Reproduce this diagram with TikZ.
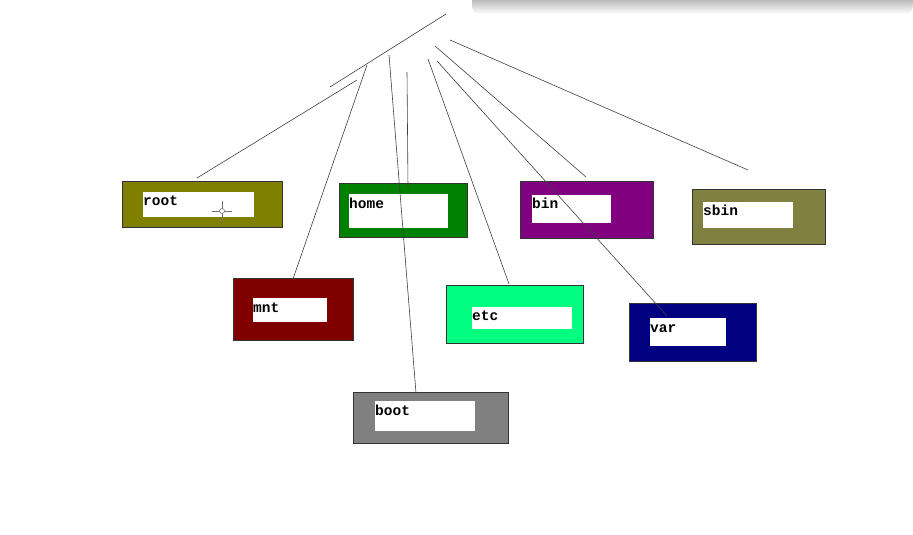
\documentclass[tikz,border=0pt]{standalone}
\usepackage{fontspec}
\setmonofont{Liberation Mono}
\definecolor{cRoot}{HTML}{808000}
\definecolor{cHome}{HTML}{008000}
\definecolor{cBin}{HTML}{800080}
\definecolor{cSbin}{HTML}{808040}
\definecolor{cMnt}{HTML}{800000}
\definecolor{cEtc}{HTML}{00FF80}
\definecolor{cVar}{HTML}{000080}
\definecolor{cBoot}{HTML}{808080}
\begin{document}
\begin{tikzpicture}[x=1pt,y=-1pt,
  outerbox/.style={draw=black!80, line width=0.7pt, inner sep=0pt, rectangle},
  innerbox/.style={fill=white, draw=none, inner sep=0pt, rectangle},
  lbl/.style={font=\ttfamily\bfseries\fontsize{14.5}{16}\selectfont, inner sep=0pt, anchor=base west, text=black},
  link/.style={draw=black!75, line width=0.6pt}]
\useasboundingbox (0,0) rectangle (913,535);
\fill[white] (0,0) rectangle (913,535);
% window shadow at top right
\shade[top color=black!45, bottom color=white, rounded corners=8pt] (472,-10) rectangle (913,14);
% boxes
\node[outerbox, fill=cRoot, minimum width=160pt, minimum height=46pt] (root) at (202,204) {};
\node[innerbox, minimum width=111pt, minimum height=25pt] (rooti) at (198.5,204.5) {};
\node[lbl] (rootl) at (143,205) {root};

\node[outerbox, fill=cHome, minimum width=128pt, minimum height=54pt] (home) at (403,210) {};
\node[innerbox, minimum width=99pt, minimum height=34pt] (homei) at (398.5,211) {};
\node[lbl] (homel) at (349,208) {home};

\node[outerbox, fill=cBin, minimum width=133pt, minimum height=57pt] (bin) at (586.5,209.5) {};
\node[innerbox, minimum width=79pt, minimum height=28pt] (bini) at (571.5,209) {};
\node[lbl] (binl) at (532,208) {bin};

\node[outerbox, fill=cSbin, minimum width=133pt, minimum height=55pt] (sbin) at (758.5,216.5) {};
\node[innerbox, minimum width=90pt, minimum height=26pt] (sbini) at (748,215) {};
\node[lbl] (sbinl) at (703,215) {sbin};

\node[outerbox, fill=cMnt, minimum width=120pt, minimum height=62pt] (mnt) at (293,309) {};
\node[innerbox, minimum width=74pt, minimum height=24pt] (mnti) at (290,310) {};
\node[lbl] (mntl) at (253,312) {mnt};

\node[outerbox, fill=cEtc, minimum width=137pt, minimum height=58pt] (etc) at (514.5,314) {};
\node[innerbox, minimum width=100pt, minimum height=22pt] (etci) at (522,318) {};
\node[lbl] (etcl) at (472,320) {etc};

\node[outerbox, fill=cVar, minimum width=127pt, minimum height=58pt] (var) at (692.5,332) {};
\node[innerbox, minimum width=76pt, minimum height=28pt] (vari) at (688,332) {};
\node[lbl] (varl) at (650,332) {var};

\node[outerbox, fill=cBoot, minimum width=155pt, minimum height=51pt] (boot) at (430.5,417.5) {};
\node[innerbox, minimum width=100pt, minimum height=30pt] (booti) at (425,416) {};
\node[lbl] (bootl) at (375,415) {boot};

% line end points
\coordinate (t1a) at (446,14);   \coordinate (t1b) at (330,87);
\coordinate (r1) at (357,80);    \coordinate (r2) at (197,178);
\coordinate (m1) at (367,65);    \coordinate (m2) at (293,279);
\coordinate (b1) at (389,55);    \coordinate (b2) at (416,393);
\coordinate (h1) at (407,72);    \coordinate (h2) at (408,188);
\coordinate (e1) at (428,59);    \coordinate (e2) at (509,284);
\coordinate (n1) at (435,46);    \coordinate (n2) at (586,177);
\coordinate (v1) at (437,61);    \coordinate (v2) at (667,316);
\coordinate (s1) at (450,40);    \coordinate (s2) at (748,170);
\draw[link] (t1a) -- (t1b);
\draw[link] (r1) -- (r2);
\draw[link] (m1) -- (m2);
\draw[link] (b1) -- (b2);
\draw[link] (h1) -- (h2);
\draw[link] (e1) -- (e2);
\draw[link] (n1) -- (n2);
\draw[link] (v1) -- (v2);
\draw[link] (s1) -- (s2);
% mouse cursor
\coordinate (cur) at (222,211);
\draw[black!55, line width=0.8pt] (cur) ++(-10,0) -- ++(20,0);
\draw[black!55, line width=0.8pt] (cur) ++(0,-10) -- ++(0,20);
\draw[black!55, fill=white, line width=0.6pt] (cur) circle (2.5pt);
\end{tikzpicture}
\end{document}
